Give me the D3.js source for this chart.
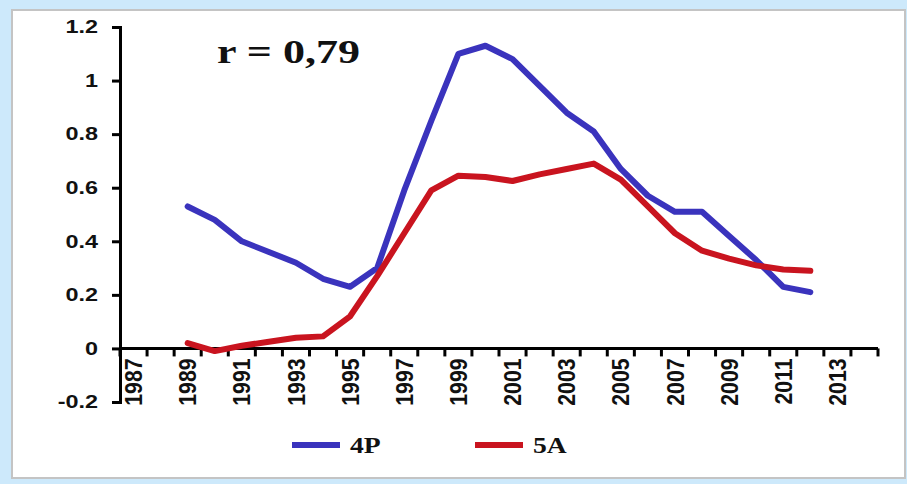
<!DOCTYPE html>
<html>
<head>
<meta charset="utf-8">
<script src="https://cdn.jsdelivr.net/npm/d3@7"></script>
<style>
  html, body { margin: 0; padding: 0; background: #cde9fb; }
  svg { display: block; }
</style>
</head>
<body>
<div id="chart"></div>
<script>
// Categories on the x axis (every year, labels shown every other year)
const years = d3.range(1987, 2015)
const tickYears = [1987, 1989, 1991, 1993, 1995, 1997, 1999, 2001, 2003, 2005, 2007, 2009, 2011, 2013]
const yTicks = [-0.2, 0, 0.2, 0.4, 0.6, 0.8, 1, 1.2]
const yTickLabels = ['-0.2', '0', '0.2', '0.4', '0.6', '0.8', '1', '1.2']

// Series values, 1989..2012
const dataYears = d3.range(1989, 2013)
const values4P = [0.53, 0.48, 0.40, 0.36, 0.32, 0.26, 0.23, 0.30, 0.59, 0.85, 1.10, 1.13, 1.08, 0.98, 0.88, 0.81,
                  0.67, 0.57, 0.51, 0.51, 0.42, 0.33, 0.23, 0.21]
const values5A = [0.02, -0.01, 0.01, 0.025, 0.04, 0.045, 0.12, 0.27, 0.43, 0.59, 0.645, 0.64, 0.625, 0.65, 0.67, 0.69,
                  0.63, 0.53, 0.43, 0.365, 0.335, 0.31, 0.295, 0.29]

const series = [
  { name: '4P', values: values4P, color: '#3a33bd' },
  { name: '5A', values: values5A, color: '#c9141f' }
]

const SANS = '"Liberation Sans", Arial, sans-serif'
const SERIF = '"Liberation Serif", "Times New Roman", serif'

const width = 907, height = 484

const svg = d3.select('#chart')
  .append('svg')
  .attr('width', width)
  .attr('height', height)

// white panel
svg.append('rect')
  .attr('x', 12).attr('y', 10)
  .attr('width', 893).attr('height', 468)
  .attr('fill', '#ffffff')
  .attr('stroke', '#c4c4c4')
  .attr('stroke-width', 2)

const x = d3.scaleBand()
  .domain(years)
  .range([120, 878])
  .padding(0)

const y = d3.scaleLinear()
  .domain([-0.2, 1.2])
  .range([402, 27])

// stretch text horizontally like the source image
function widen(sel, k) {
  sel.each(function () {
    const w = this.getComputedTextLength()
    d3.select(this).attr('textLength', w * k).attr('lengthAdjust', 'spacingAndGlyphs')
  })
}

// Y axis
const yAxis = svg.append('g')
  .attr('transform', `translate(${x.range()[0]},0)`)
  .call(d3.axisLeft(y).tickValues(yTicks).tickSize(8).tickPadding(14)
    .tickFormat((d, i) => yTickLabels[i]))
yAxis.select('.domain').attr('stroke', '#000').attr('stroke-width', 3)
yAxis.selectAll('.tick line').attr('stroke', '#000').attr('stroke-width', 3)
yAxis.selectAll('.tick text')
  .attr('fill', '#111')
  .attr('font-family', SANS)
  .attr('font-weight', 'bold')
  .attr('font-size', 18)
  .call(widen, 1.3)

// X axis (category axis with ticks between categories)
const xAxisG = svg.append('g')
  .attr('transform', `translate(0,${y(0)})`)
xAxisG.append('line')
  .attr('x1', x.range()[0]).attr('x2', x.range()[1])
  .attr('stroke', '#000').attr('stroke-width', 3)
xAxisG.selectAll('.tk')
  .data(years.concat([years[years.length - 1] + 1]))
  .enter().append('line')
  .attr('class', 'tk')
  .attr('x1', d => d <= years[years.length - 1] ? x(d) : x.range()[1])
  .attr('x2', d => d <= years[years.length - 1] ? x(d) : x.range()[1])
  .attr('y1', 0).attr('y2', 8)
  .attr('stroke', '#000').attr('stroke-width', 3)

xAxisG.selectAll('.lbl')
  .data(tickYears)
  .enter().append('text')
  .attr('class', 'lbl')
  .attr('transform', d => `translate(${x(d) + x.bandwidth() / 2},10) rotate(-90) scale(1,1.3)`)
  .attr('text-anchor', 'end')
  .attr('dy', '0.35em')
  .attr('fill', '#111')
  .attr('font-family', SANS)
  .attr('font-weight', 'bold')
  .attr('font-size', 19)
  .text(d => d)
  .call(widen, 1.12)

// Lines
const line = d3.line()
  .x((d, i) => x(dataYears[i]) + x.bandwidth() / 2)
  .y(d => y(d))

svg.selectAll('.series')
  .data(series)
  .enter().append('path')
  .attr('class', 'series')
  .attr('d', d => line(d.values))
  .attr('fill', 'none')
  .attr('stroke', d => d.color)
  .attr('stroke-width', 6)
  .attr('stroke-linejoin', 'round')
  .attr('stroke-linecap', 'round')

// Correlation annotation
svg.append('text')
  .attr('x', 217)
  .attr('y', 63)
  .attr('font-family', SERIF)
  .attr('font-weight', 'bold')
  .attr('font-size', 34)
  .attr('fill', '#111')
  .text('r = 0,79')
  .attr('textLength', 143)
  .attr('lengthAdjust', 'spacingAndGlyphs')

// Legend
const legendX = [292, 475]
const legend = svg.selectAll('.legend')
  .data(series)
  .enter().append('g')
  .attr('class', 'legend')
  .attr('transform', (d, i) => `translate(${legendX[i]},445)`)
legend.append('line')
  .attr('x1', 0).attr('x2', 48)
  .attr('stroke', d => d.color)
  .attr('stroke-width', 6)
legend.append('text')
  .attr('x', 58)
  .attr('y', 8)
  .attr('font-family', SERIF)
  .attr('font-weight', 'bold')
  .attr('font-size', 24)
  .attr('fill', '#111')
  .text(d => d.name)
  .call(widen, 1.15)
</script>
</body>
</html>
